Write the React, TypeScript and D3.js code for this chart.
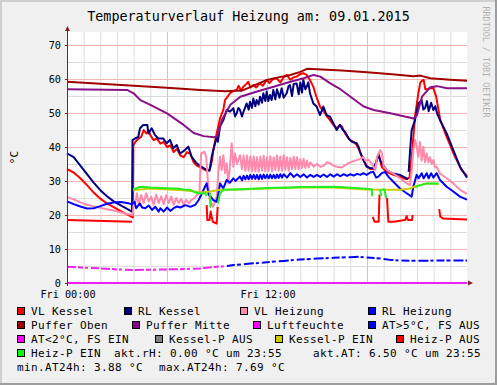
import React from 'react';
import * as d3 from 'd3';

type P = [number, number | null];

const title = 'Temperaturverlauf Heizung am: 09.01.2015';
const watermark = 'RRDTOOL / TOBI OETIKER';
const yAxisTitle = '°C';
const xTickLabels: [number, string][] = [[0, 'Fri 00:00'], [12, 'Fri 12:00']];
const yTickValues = [0, 10, 20, 30, 40, 50, 60, 70];

const vlKessel: P[] = [
  [0, 33.5], [0.4, 32.5], [0.8, 30.8], [1.2, 28.8], [1.6, 26.6], [2.0, 24.8], [2.4, 23.4], [2.8, 22.3], [3.2, 21.2], [3.6, 20.2], [3.95, 19.3],
  [3.98, 40.5], [4.1, 41.5], [4.3, 42.5], [4.45, 43.0], [4.6, 45.0], [4.75, 44.0], [4.9, 44.8], [5.0, 43.5], [5.2, 42.0], [5.4, 42.5], [5.6, 41.0],
  [5.8, 41.5], [6.0, 40.0], [6.2, 40.5], [6.4, 38.5], [6.6, 39.5], [6.8, 37.5], [7.0, 37.0], [7.2, 38.5], [7.4, 38.0], [7.6, 35.5], [7.8, 34.5],
  [8.0, 34.0], [8.2, 33.5], [8.4, 33.0], [8.58, 33.5], [8.7, 36.0], [8.78, 39.1], [8.98, 44.0], [9.18, 48.4], [9.38, 50.9], [9.48, 53.8],
  [9.78, 55.8], [10.0, 56.5], [10.18, 56.8], [10.3, 58.0], [10.45, 56.5], [10.58, 57.7], [10.75, 58.5], [10.88, 59.2], [11.0, 57.5],
  [11.18, 58.2], [11.35, 57.5], [11.58, 58.7], [11.75, 58.0], [11.98, 59.7], [12.15, 58.8], [12.35, 60.0], [12.58, 60.2], [12.8, 59.0],
  [13.0, 60.5], [13.18, 61.2], [13.4, 59.8], [13.6, 60.5], [13.78, 60.7], [14.0, 61.5], [14.18, 61.7], [14.38, 61.2], [14.58, 59.7],
  [14.78, 57.7], [14.95, 55.0], [15.18, 51.9], [15.4, 50.5], [15.6, 49.0], [15.78, 47.9], [15.98, 46.5], [16.18, 45.5], [16.38, 46.5],
  [16.5, 46.0], [16.68, 44.0], [16.98, 42.0], [17.2, 41.5], [17.38, 40.6], [17.58, 38.6], [17.78, 36.2], [17.98, 34.5], [18.2, 33.5],
  [18.38, 33.5], [18.55, 35.5], [18.7, 38.0], [18.88, 34.2], [19.18, 32.7], [19.58, 31.8], [19.98, 31.2], [20.38, 30.5], [20.55, 31.0],
  [20.7, 38.0], [20.88, 48.9], [21.08, 55.8], [21.2, 59.0], [21.3, 59.5], [21.4, 59.7], [21.5, 57.0], [21.6, 57.0], [21.8, 57.3],
  [21.98, 57.3], [22.15, 54.8], [22.4, 47.9], [22.78, 43.0], [23.28, 37.1], [23.68, 33.2], [24, 31.5],
];

const rlKessel: P[] = [
  [0, 38.1], [0.4, 37.0], [0.8, 34.5], [1.2, 32.0], [1.6, 29.5], [2.0, 27.3], [2.4, 25.5], [2.8, 24.0], [3.2, 22.9], [3.6, 21.8], [3.9, 21.0],
  [3.93, 42.0], [4.08, 42.5], [4.28, 43.0], [4.38, 45.5], [4.58, 46.5], [4.82, 46.5], [4.88, 44.0], [5.08, 45.5], [5.28, 43.5], [5.48, 42.5],
  [5.78, 42.5], [5.98, 41.1], [6.18, 42.1], [6.38, 39.6], [6.58, 40.6], [6.78, 38.1], [7.08, 39.1], [7.28, 40.1], [7.48, 37.1], [7.78, 35.2],
  [8.08, 34.2], [8.38, 33.2], [8.55, 33.0], [8.68, 37.1], [8.78, 39.1], [8.98, 43.0], [9.05, 41.5], [9.18, 46.0], [9.38, 47.9], [9.58, 50.9],
  [9.78, 50.4], [9.98, 51.4], [10.08, 49.0], [10.18, 49.9], [10.28, 51.5], [10.38, 50.9], [10.5, 49.0], [10.6, 50.5], [10.78, 52.8],
  [10.9, 51.0], [10.98, 53.3], [11.1, 51.5], [11.18, 54.3], [11.3, 52.0], [11.38, 53.8], [11.5, 52.5], [11.58, 54.8], [11.7, 53.0],
  [11.78, 55.8], [11.9, 53.5], [11.98, 56.3], [12.08, 53.5], [12.18, 55.3], [12.28, 53.8], [12.38, 56.8], [12.5, 54.0], [12.6, 57.0],
  [12.75, 54.5], [12.88, 57.3], [13.0, 54.5], [13.18, 55.8], [13.3, 58.0], [13.38, 58.2], [13.5, 55.0], [13.6, 58.5], [13.78, 58.7],
  [13.9, 55.5], [14.0, 59.0], [14.1, 56.0], [14.18, 59.7], [14.3, 57.0], [14.38, 57.7], [14.48, 59.0], [14.58, 55.8], [14.78, 52.8],
  [14.98, 51.9], [15.18, 49.4], [15.38, 51.9], [15.58, 49.4], [15.78, 48.9], [15.98, 47.0], [16.18, 45.0], [16.38, 46.5], [16.55, 45.0],
  [16.68, 44.5], [16.9, 42.5], [17.1, 41.5], [17.38, 41.1], [17.5, 40.0], [17.58, 38.6], [17.78, 36.2], [17.98, 34.2], [18.2, 33.8],
  [18.38, 33.7], [18.55, 35.5], [18.68, 37.8], [18.8, 36.0], [18.88, 35.2], [19.18, 33.2], [19.58, 32.2], [19.98, 31.8], [20.38, 30.8],
  [20.46, 30.5], [20.48, null], [20.5, 32.7], [20.6, 40.0], [20.68, 45.0], [20.88, 47.9], [21.08, 52.8], [21.28, 53.8], [21.38, 51.0],
  [21.48, 51.4], [21.6, 53.5], [21.7, 50.5], [21.85, 53.0], [21.98, 50.9], [22.1, 52.0], [22.2, 50.0], [22.38, 47.9], [22.78, 44.0],
  [23.18, 39.1], [23.58, 34.2], [24, 31.0],
];

const vlHeizung: P[] = [
  [0, 25.3], [0.4, 24.6], [0.8, 23.7], [1.2, 23.0], [1.6, 22.5], [2.0, 22.1], [2.4, 21.7], [2.8, 21.3], [3.2, 20.8], [3.6, 20.3], [3.95, 20.0],
  [4.0, 24.0], [4.1, 23.5], [4.2, 26.4], [4.3, 22.9], [4.45, 25.9], [4.6, 23.5], [4.75, 26.4], [4.9, 24.0], [5.05, 25.4], [5.2, 23.0],
  [5.35, 26.0], [5.5, 23.5], [5.65, 25.5], [5.8, 23.2], [5.95, 25.8], [6.1, 23.5], [6.25, 25.4], [6.4, 23.0], [6.55, 25.0], [6.7, 23.5],
  [6.85, 24.8], [7.0, 23.0], [7.15, 24.5], [7.3, 23.4], [7.45, 24.4], [7.6, 24.8], [7.8, 25.9], [7.95, 26.4], [8.0, 33.2], [8.05, 38.1],
  [8.25, 38.6], [8.35, 37.1], [8.45, 30.3], [8.55, 24.9], [8.75, 22.4], [8.85, 23.4], [8.98, 25.4], [9.08, 32.3], [9.18, 37.1], [9.28, 33.2],
  [9.38, 37.6], [9.48, 32.3], [9.58, 35.2], [9.68, 29.3], [9.78, 34.7], [9.88, 41.1], [9.98, 34.2], [10.08, 38.1], [10.2, 35.0],
  [10.38, 37.6], [10.5, 33.5], [10.6, 37.5], [10.7, 33.0], [10.8, 37.5], [10.9, 33.0], [11.0, 37.3], [11.1, 32.8], [11.2, 37.2],
  [11.3, 32.8], [11.4, 37.0], [11.5, 32.7], [11.6, 37.2], [11.7, 33.0], [11.8, 37.4], [11.9, 32.8], [12.0, 37.0], [12.1, 33.0],
  [12.2, 37.3], [12.3, 32.8], [12.4, 37.0], [12.5, 33.2], [12.6, 37.5], [12.7, 33.0], [12.8, 37.2], [12.9, 33.0], [13.0, 37.6],
  [13.1, 33.3], [13.2, 37.0], [13.3, 33.0], [13.4, 36.8], [13.5, 33.5], [13.6, 37.2], [13.7, 33.5], [13.8, 37.0], [13.9, 33.5],
  [14.0, 36.5], [14.1, 33.8], [14.2, 36.5], [14.3, 33.8], [14.4, 36.0], [14.5, 34.0], [14.6, 35.5], [14.8, 34.2], [15.0, 35.0],
  [15.2, 34.2], [15.4, 34.5], [15.6, 35.5], [15.8, 35.2], [16.0, 34.5], [16.2, 34.2], [16.5, 34.0], [16.8, 35.0], [17.0, 35.5],
  [17.3, 36.0], [17.6, 36.5], [17.78, 37.1], [17.9, 36.0], [18.1, 36.2], [18.3, 35.0], [18.5, 33.2], [18.6, 37.1], [18.7, 38.1],
  [18.8, 39.1], [18.9, 38.0], [19.0, 34.2], [19.2, 33.2], [19.58, 32.2], [19.98, 30.8], [20.38, 29.3], [20.58, 28.8], [20.68, 33.2],
  [20.78, 39.1], [20.88, 42.1], [20.98, 40.0], [21.08, 37.1], [21.18, 41.5], [21.28, 36.0], [21.38, 40.1], [21.48, 35.5], [21.58, 38.1],
  [21.68, 35.5], [21.78, 37.0], [21.88, 35.0], [21.98, 36.2], [22.08, 34.0], [22.18, 34.2], [22.38, 32.2], [22.78, 30.8], [23.18, 29.3],
  [23.58, 27.4], [24, 26.2],
];

const rlHeizung: P[] = [
  [0, 24.0], [0.4, 23.2], [0.8, 22.5], [1.2, 21.9], [1.6, 22.0], [2.0, 22.6], [2.4, 23.3], [2.8, 23.7], [3.2, 23.8], [3.6, 23.5], [3.9, 23.2],
  [3.95, 23.5], [4.05, 23.9], [4.15, 22.0], [4.38, 23.4], [4.5, 22.2], [4.7, 22.0], [4.9, 22.8], [5.1, 21.5], [5.3, 22.4], [5.5, 21.0],
  [5.6, 22.0], [5.8, 21.0], [6.0, 22.2], [6.2, 21.2], [6.4, 22.0], [6.6, 22.5], [6.8, 22.2], [7.1, 22.9], [7.4, 22.4], [7.7, 23.0],
  [7.9, 24.4], [8.1, 26.4], [8.28, 28.3], [8.38, 29.3], [8.5, 26.0], [8.62, 25.4], [8.78, 24.4], [8.98, 23.9], [9.08, 26.0], [9.18, 29.3],
  [9.38, 27.8], [9.58, 30.3], [9.78, 29.5], [9.98, 30.8], [10.1, 30.0], [10.38, 31.3], [10.5, 30.2], [10.6, 31.5], [10.7, 30.5],
  [10.8, 31.6], [10.9, 30.5], [11.0, 31.8], [11.1, 30.6], [11.2, 31.8], [11.3, 30.6], [11.4, 31.8], [11.5, 30.5], [11.6, 31.8],
  [11.7, 30.6], [11.8, 31.9], [11.9, 30.8], [12.0, 31.8], [12.1, 30.8], [12.2, 31.9], [12.3, 30.8], [12.4, 31.8], [12.5, 30.8],
  [12.6, 31.9], [12.7, 30.9], [12.8, 32.0], [12.9, 31.0], [13.0, 32.0], [13.2, 31.0], [13.4, 32.3], [13.6, 31.2], [13.8, 32.0],
  [14.0, 31.2], [14.2, 32.0], [14.4, 31.0], [14.6, 31.8], [14.8, 31.2], [15.0, 31.8], [15.2, 31.2], [15.4, 31.9], [15.6, 31.2],
  [15.8, 32.0], [16.0, 31.3], [16.2, 32.0], [16.4, 31.4], [16.6, 32.0], [16.8, 31.5], [17.0, 32.0], [17.2, 31.6], [17.4, 32.1],
  [17.6, 31.8], [17.78, 32.3], [17.98, 31.8], [18.2, 32.5], [18.38, 32.7], [18.55, 31.0], [18.68, 31.3], [18.88, 32.3], [19.08, 32.7],
  [19.28, 31.3], [19.58, 29.8], [19.98, 27.8], [20.38, 26.4], [20.68, 25.4], [20.78, 28.3], [20.98, 31.8], [21.1, 30.8], [21.28, 32.3],
  [21.4, 30.8], [21.58, 32.3], [21.7, 30.8], [21.85, 32.3], [21.98, 31.0], [22.18, 32.3], [22.38, 30.3], [22.78, 28.3], [23.18, 26.9],
  [23.58, 25.4], [24, 24.5],
];

const pufferOben: P[] = [
  [0, 59.2], [2, 58.6], [4, 58.0], [6, 57.4], [8, 56.8], [9.5, 56.4], [10.5, 56.6], [11.0, 57.6], [11.4, 58.5], [12.0, 59.7],
  [12.6, 60.4], [13.4, 61.2], [14.0, 62.1], [14.4, 63.0], [15.0, 62.9], [16.5, 62.5], [18.0, 62.0], [19.5, 61.4], [20.8, 60.8],
  [21.2, 61.0], [21.8, 60.2], [23.0, 59.8], [24, 59.5],
];

const pufferMitte: P[] = [
  [0, 57.0], [3.6, 56.8], [4.0, 55.8], [4.4, 53.8], [5.0, 52.4], [6.0, 49.9], [7.0, 46.5], [7.6, 44.1], [8.2, 43.2], [8.8, 42.9],
  [9.0, 43.0], [9.3, 48.0], [9.8, 52.4], [10.4, 54.8], [11.4, 56.3], [12.4, 57.7], [13.4, 59.2], [14.2, 60.2], [14.8, 61.2],
  [15.2, 60.7], [15.8, 58.7], [16.4, 57.0], [17.8, 51.9], [18.4, 50.9], [19.4, 49.9], [20.8, 48.4], [21.0, 49.4], [21.3, 54.8],
  [21.8, 57.6], [22.2, 57.9], [22.8, 57.3], [24, 57.3],
];

const luftfeuchte: P[] = [[0, 0], [6, 0], [12, 0], [18, 0], [24, 0]];

const atUnder5: P[] = [
  [0, 4.8], [1, 4.5], [2, 4.3], [3, 4.0], [4, 3.8], [5, 3.9], [6, 4.0], [7, 4.1], [8, 4.3], [9, 4.8], [9.6, 5.0],
];

const atOver5: P[] = [
  [9.6, 5.0], [10, 5.3], [10.5, 5.5], [11, 5.7], [12, 6.1], [13, 6.5], [14, 6.9], [15, 7.2], [16, 7.4], [17, 7.6], [17.5, 7.7],
  [18, 7.5], [18.8, 7.2], [19.4, 6.8], [20, 6.6], [21, 6.5], [22, 6.6], [23, 6.6], [24, 6.6],
];

const kesselPEin: P[] = [
  [3.96, 27.3], [5, 27.8], [7.0, 27.3], [7.5, 27.0], [8.0, 26.6], [8.6, 26.9], [9.2, 27.4], [10.4, 27.5], [12.4, 27.9], [14, 28.1],
  [16, 28.1], [18, 27.5], [19.0, 27.4], [20.0, 27.4], [20.6, 27.8], [20.9, 28.5], [21.6, 29.3], [22.3, 29.1],
];

const heizPAus: P[] = [
  [0, 18.5], [3.9, 18.0], [3.95, null],
  [8.38, 22.9], [8.42, 18.5], [8.55, 18.5], [8.62, 21.0], [8.68, 19.5], [8.75, 18.0], [8.98, 17.5], [9.04, 22.4], [9.06, null],
  [18.35, 19.5], [18.45, 18.0], [18.7, 18.0], [18.75, 26.0], [18.8, null],
  [19.2, 25.0], [19.28, 18.0], [19.6, 18.0], [20.28, 18.5], [20.38, 19.7], [20.45, 18.5], [20.7, 18.5], [20.74, 20.0], [20.8, null],
  [22.33, 21.7], [22.4, 19.5], [22.55, 19.0], [24, 18.7],
];

const heizPEin: P[] = [
  [3.96, 27.5], [4.4, 28.3], [5.0, 28.1], [6.0, 27.9], [6.6, 27.8], [7.0, 27.5], [7.4, 27.4], [7.65, 26.7], [8.0, 26.3], [8.3, 26.4],
  [8.38, 25.6], [8.4, null],
  [8.58, 26.5], [8.61, 22.4], [8.64, 22.4], [8.66, null],
  [9.06, 23.4], [9.18, 26.4], [9.38, 27.4], [10.4, 27.6], [11.4, 27.8], [12.4, 28.0], [13.4, 28.1], [14.0, 28.2], [15.9, 28.3],
  [16.4, 28.2], [17.0, 28.0], [18.0, 27.7], [18.28, 27.6], [18.32, 25.5], [18.34, null],
  [18.76, 27.4], [18.8, 27.4], [18.84, 25.5], [18.86, null],
  [18.9, 27.4], [19.05, 27.5], [19.15, 25.0], [19.17, null],
  [20.9, 28.0], [21.0, 28.5], [21.6, 29.3], [22.3, 29.3],
];

const legendRows: { label: string; color?: string }[][] = [
  [{ label: 'VL Kessel', color: '#FF0000' }, { label: 'RL Kessel', color: '#000080' }, { label: 'VL Heizung', color: '#FF8AAC' }, { label: 'RL Heizung', color: '#0000FF' }],
  [{ label: 'Puffer Oben', color: '#A00000' }, { label: 'Puffer Mitte', color: '#880088' }, { label: 'Luftfeuchte', color: '#FF00FF' }, { label: 'AT>5°C, FS AUS', color: '#0000FF' }],
  [{ label: 'AT<2°C, FS EIN', color: '#FF00FF' }, { label: 'Kessel-P AUS', color: '#808080' }, { label: 'Kessel-P EIN', color: '#CCCC00' }, { label: 'Heiz-P AUS', color: '#FF0000' }],
  [{ label: 'Heiz-P EIN', color: '#00FF00' }, { label: 'akt.rH: 0.00 °C um 23:55' }, { label: 'akt.AT: 6.50 °C um 23:55' }],
  [{ label: 'min.AT24h: 3.88 °C' }, { label: 'max.AT24h: 7.69 °C' }],
];

// layout
const W = 497, H = 385;
const L = 67, R = 467, T = 32, B = 283;
const legendX = [[17, 124, 240, 368], [17, 132, 253, 368], [17, 155, 275, 396], [17, 114, 313], [17, 159]];
const legendBaseline = [315, 329, 343, 357, 371];
const mono = 'DejaVu Sans Mono, monospace';

export default function App() {
  const x = d3.scaleLinear().domain([0, 24]).range([L, R]);
  const y = d3.scaleLinear().domain([0, (B - T) / 3.4]).range([B, T]);
  const line = d3.line<P>().defined(d => d[1] != null).x(d => x(d[0])).y(d => y(d[1] as number));

  const series: { data: P[]; color: string; dash?: string; w?: number }[] = [
    { data: vlKessel, color: '#FF0000' },
    { data: rlKessel, color: '#000080' },
    { data: vlHeizung, color: '#FF8AAC' },
    { data: rlHeizung, color: '#0000FF' },
    { data: pufferOben, color: '#A00000' },
    { data: pufferMitte, color: '#881188' },
    { data: luftfeuchte, color: '#EE22EE' },
    { data: atOver5, color: '#0000FF', dash: '8,2,4,3,10,2,3,3' },
    { data: atUnder5, color: '#EE22EE', dash: '9,2,5,2,3,3,8,2' },
    { data: kesselPEin, color: '#CCCC00' },
    { data: heizPAus, color: '#FF0000' },
    { data: heizPEin, color: '#22EE22' },
  ];

  const minorX = d3.range(1, 24).filter(h => h % 6 !== 0);
  const majorX = [6, 12, 18];
  const minorY = d3.range(5, 74, 10);
  const majorY = d3.range(10, 74, 10);
  const axisCol = '#7F2020';

  return (
    <svg width={W} height={H} style={{ position: 'absolute', left: 0, top: 0 }} fontFamily={mono}>
      <rect x={0} y={0} width={W} height={H} fill="#F0F0F0" />
      <rect x={0} y={0} width={W} height={2} fill="#CFCFCF" />
      <rect x={0} y={0} width={2} height={H} fill="#CFCFCF" />
      <rect x={0} y={H - 2} width={W} height={2} fill="#9E9E9E" />
      <rect x={W - 2} y={0} width={2} height={H} fill="#9E9E9E" />
      <rect x={L} y={T} width={R - L} height={B - T} fill="#FFFFFF" />

      {minorX.map(h => <line key={'mx' + h} x1={x(h) + 0.5} x2={x(h) + 0.5} y1={T} y2={B} stroke="#DCDCDC" />)}
      {minorY.map(v => <line key={'my' + v} x1={L} x2={R} y1={Math.round(y(v)) + 0.5} y2={Math.round(y(v)) + 0.5} stroke="#DCDCDC" />)}
      {majorX.map(h => <line key={'Mx' + h} x1={x(h) + 0.5} x2={x(h) + 0.5} y1={T} y2={B} stroke="#F4B4B4" />)}
      {majorY.map(v => <line key={'My' + v} x1={L} x2={R} y1={Math.round(y(v)) + 0.5} y2={Math.round(y(v)) + 0.5} stroke="#F4B4B4" />)}

      {series.map((s, i) => (
        <path key={i} d={line(s.data) || ''} fill="none" stroke={s.color} strokeWidth={2}
          strokeLinejoin="round" strokeDasharray={s.dash} />
      ))}

      <line x1={L + 0.5} x2={L + 0.5} y1={B + 3} y2={T - 2} stroke={axisCol} />
      <path d={`M${L - 2},${T - 1}L${L + 3},${T - 1}L${L + 0.5},${T - 6}Z`} fill={axisCol} />
      <path d={`M${R + 1},${B - 2.5}L${R + 1},${B + 2.5}L${R + 6},${B}Z`} fill={axisCol} />
      {yTickValues.map(v => <line key={'yt' + v} x1={L - 2} x2={L} y1={Math.round(y(v)) + 0.5} y2={Math.round(y(v)) + 0.5} stroke={axisCol} />)}

      {yTickValues.map(v => (
        <text key={'yl' + v} x={61} y={y(v) + 3.6} fontSize={10.2} textAnchor="end" fill="#000">{v}</text>
      ))}
      {xTickLabels.map(([h, t]) => (
        <text key={'xl' + h} x={x(h) + 1} y={298} fontSize={10.2} textAnchor="middle" fill="#000">{t}</text>
      ))}

      <text x={248.5} y={21} fontSize={13.4} textAnchor="middle" fill="#000">{title}</text>
      <text transform="translate(18,157.5) rotate(-90)" fontSize={11} textAnchor="middle" fill="#000">{yAxisTitle}</text>
      <text transform="translate(483,62) rotate(90)" fontSize={8.4} textAnchor="middle" fill="#B0B0B0">{watermark}</text>

      {legendRows.map((row, ri) => row.map((item, ci) => {
        const lx = legendX[ri][ci];
        const by = legendBaseline[ri];
        return (
          <g key={ri + '-' + ci}>
            {item.color && <rect x={lx + 0.5} y={by - 7.5} width={7} height={7} fill={item.color} stroke="#000" />}
            <text x={item.color ? lx + 14 : lx} y={by} fontSize={11} letterSpacing={0.38} fill="#000">{item.label}</text>
          </g>
        );
      }))}
    </svg>
  );
}
